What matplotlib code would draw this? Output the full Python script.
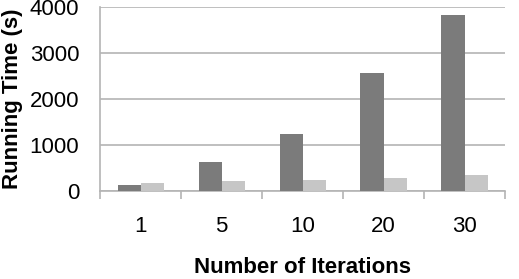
import numpy as np
import matplotlib
matplotlib.use("Agg")
import matplotlib.pyplot as plt

# ── Data ──────────────────────────────────────────────────────────────────────
iterations = ["1", "5", "10", "20", "30"]
series_a   = [130, 630, 1240, 2565, 3825]   # dark bars
series_b   = [175, 215, 240, 280, 360]      # light bars

DARK  = "#7b7b7b"
LIGHT = "#c6c6c6"
GRID  = "#b4b4b4"

plt.rcParams["font.family"] = ["Liberation Sans", "DejaVu Sans"]

fig = plt.figure(figsize=(5.19, 2.79), dpi=100)
ax = fig.add_axes([0.193, 0.315, 0.780, 0.660])

x = np.arange(len(iterations))
w = 0.285
ax.bar(x - w / 2, series_a, width=w, color=DARK, zorder=3)
ax.bar(x + w / 2, series_b, width=w, color=LIGHT, zorder=3)

ax.set_xlim(-0.5, len(iterations) - 0.5)
ax.set_ylim(0, 4000)
ax.set_yticks([0, 1000, 2000, 3000, 4000])
ax.yaxis.grid(True, color=GRID, lw=1.2, zorder=0)
ax.set_axisbelow(True)

ax.set_xticks(x)
ax.set_xticklabels(iterations)
ax.set_xticks(np.arange(len(iterations) + 1) - 0.5, minor=True)
ax.tick_params(axis="x", which="major", length=0, pad=18, labelsize=16)
ax.tick_params(axis="x", which="minor", length=6, color=GRID, width=1.2)
ax.tick_params(axis="y", length=0, pad=15, labelsize=16)

for side in ("top", "right"):
    ax.spines[side].set_visible(False)
for side in ("left", "bottom"):
    ax.spines[side].set_color(GRID)
    ax.spines[side].set_linewidth(1.2)

ax.set_xlabel("Number of Iterations", fontsize=16, fontweight="bold", labelpad=14)
ax.set_ylabel("Running Time (s)", fontsize=16, fontweight="bold", labelpad=5)

fig.savefig("out.png", dpi=100)
